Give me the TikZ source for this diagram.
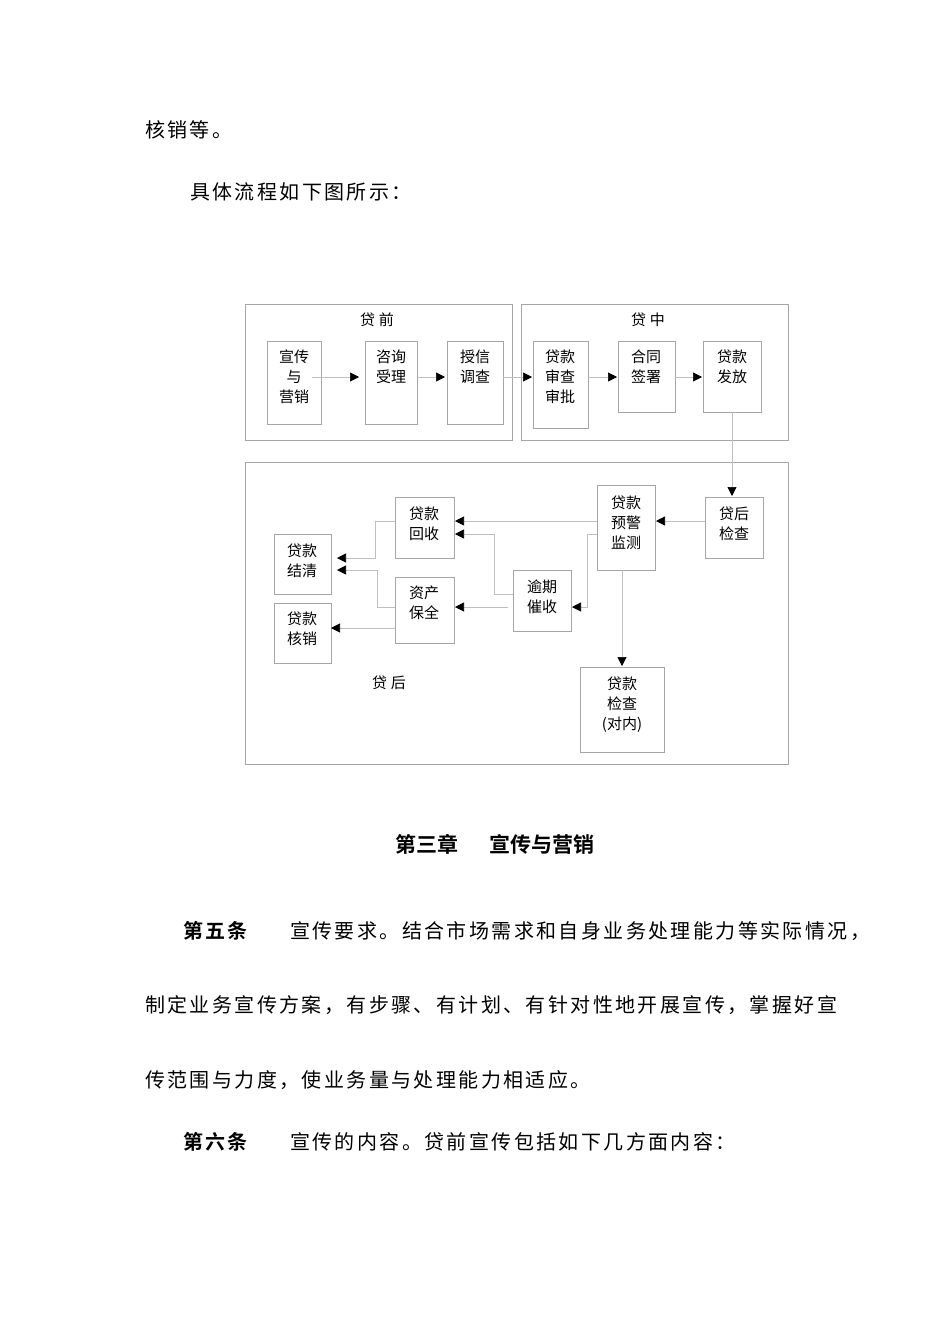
\documentclass[tikz,border=0pt]{standalone}
\usepackage{fontspec}
\setmainfont{Noto Sans CJK SC}
\newfontfamily\bodyf[LetterSpace=12]{Noto Sans CJK SC}
\newfontfamily\boldf[LetterSpace=12]{Noto Sans CJK SC Bold}
\newfontfamily\headf{Noto Sans CJK SC Bold}
\usetikzlibrary{arrows.meta}
\begin{document}
\begin{tikzpicture}[x=1pt,y=-1pt,
  frame/.style={draw=black!35,line width=0.8pt},
  bx/.style={align=center,font=\fontsize{15}{20}\selectfont,inner sep=0pt},
  ar/.style={draw=black!25,line width=0.7pt,-{Triangle[length=9pt,width=9pt,color=black]}},
  body/.style={anchor=west,inner sep=0pt,font=\fontsize{20}{24}\bodyf},
  bb/.style={anchor=west,inner sep=0pt,font=\fontsize{20}{24}\boldf}]
\useasboundingbox (0,0) rectangle (950,1344);
\fill[white] (0,0) rectangle (950,1344);
% text
\node[body] (t1) at (145,130) {核销等。};
\node[body] (t2) at (190,192) {具体流程如下图所示：};
\node[inner sep=0pt,font=\fontsize{21}{24}\headf] (h) at (495,844) {第三章\hspace{32pt}宣传与营销};
\node[bb] (a5) at (183,931) {第五条};
\node[body] (b5) at (290,931) {宣传要求。结合市场需求和自身业务处理能力等实际情况，};
\node[body] (b6) at (145,1005) {制定业务宣传方案，有步骤、有计划、有针对性地开展宣传，掌握好宣};
\node[body] (b7) at (145,1080) {传范围与力度，使业务量与处理能力相适应。};
\node[bb] (a6) at (183,1142) {第六条};
\node[body] (b8) at (290,1142) {宣传的内容。贷前宣传包括如下几方面内容：};
% frames
\draw[frame] (245,304) rectangle (512,440);
\draw[frame] (521,304) rectangle (788,440);
\draw[frame] (245,462) rectangle (788,764);
\node[font=\fontsize{15}{16}\selectfont] (f1) at (377,320) {贷\hspace{4pt}前};
\node[font=\fontsize{15}{16}\selectfont] (f2) at (648,320) {贷\hspace{4pt}中};
\node[font=\fontsize{15}{16}\selectfont] (f3) at (389,683) {贷\hspace{4pt}后};
% top boxes
\draw[frame] (267,341) rectangle (321,424); \node[bx] (n1) at (294,377) {宣传\\与\\营销};
\draw[frame] (365,341) rectangle (417,424); \node[bx] (n2) at (391,367) {咨询\\受理};
\draw[frame] (447,341) rectangle (503,424); \node[bx] (n3) at (475,367) {授信\\调查};
\draw[frame] (533,341) rectangle (588,428); \node[bx] (n4) at (560,377) {贷款\\审查\\审批};
\draw[frame] (618,341) rectangle (675,412); \node[bx] (n5) at (646,367) {合同\\签署};
\draw[frame] (703,341) rectangle (761,412); \node[bx] (n6) at (732,367) {贷款\\发放};
\coordinate (p1) at (312,377); \coordinate (q1) at (359,377);
\coordinate (p2) at (417,377); \coordinate (q2) at (445,377);
\coordinate (p3) at (503,377); \coordinate (q3) at (532,377);
\coordinate (p4) at (588,377); \coordinate (q4) at (617,377);
\coordinate (p5) at (675,377); \coordinate (q5) at (702,377);
\draw[ar] (p1) -- (q1); \draw[ar] (p2) -- (q2); \draw[ar] (p3) -- (q3);
\draw[ar] (p4) -- (q4); \draw[ar] (p5) -- (q5);
% lower boxes
\draw[frame] (705,497) rectangle (763,558); \node[bx] (c1) at (734,524) {贷后\\检查};
\draw[frame] (597,485) rectangle (655,570); \node[bx] (c2) at (626,523) {贷款\\预警\\监测};
\draw[frame] (395,497) rectangle (454,558); \node[bx] (c3) at (424,524) {贷款\\回收};
\draw[frame] (513,570) rectangle (571,631); \node[bx] (c4) at (542,597) {逾期\\催收};
\draw[frame] (395,577) rectangle (454,643); \node[bx] (c5) at (424,603) {资产\\保全};
\draw[frame] (274,534) rectangle (331,594); \node[bx] (c6) at (302,561) {贷款\\结清};
\draw[frame] (274,603) rectangle (331,663); \node[bx] (c7) at (302,629) {贷款\\核销};
\draw[frame] (580,667) rectangle (664,752); \node[bx] (c8) at (622,705) {贷款\\检查\\(对内)};
% lower connectors
\draw[ar] (732,412) -- (732,496);
\draw[ar] (705,521) -- (656,521);
\draw[ar] (597,521) -- (455,521);
\draw[ar] (597,534) -- (587,534) -- (587,607) -- (572,607);
\draw[ar] (513,594) -- (494,594) -- (494,534) -- (455,534);
\draw[ar] (508,607) -- (455,607);
\draw[ar] (395,521) -- (375,521) -- (375,558) -- (337,558);
\draw[ar] (395,607) -- (377,607) -- (377,570) -- (337,570);
\draw[ar] (395,628) -- (331,628);
\draw[ar] (622,570) -- (622,666);
\end{tikzpicture}
\end{document}
